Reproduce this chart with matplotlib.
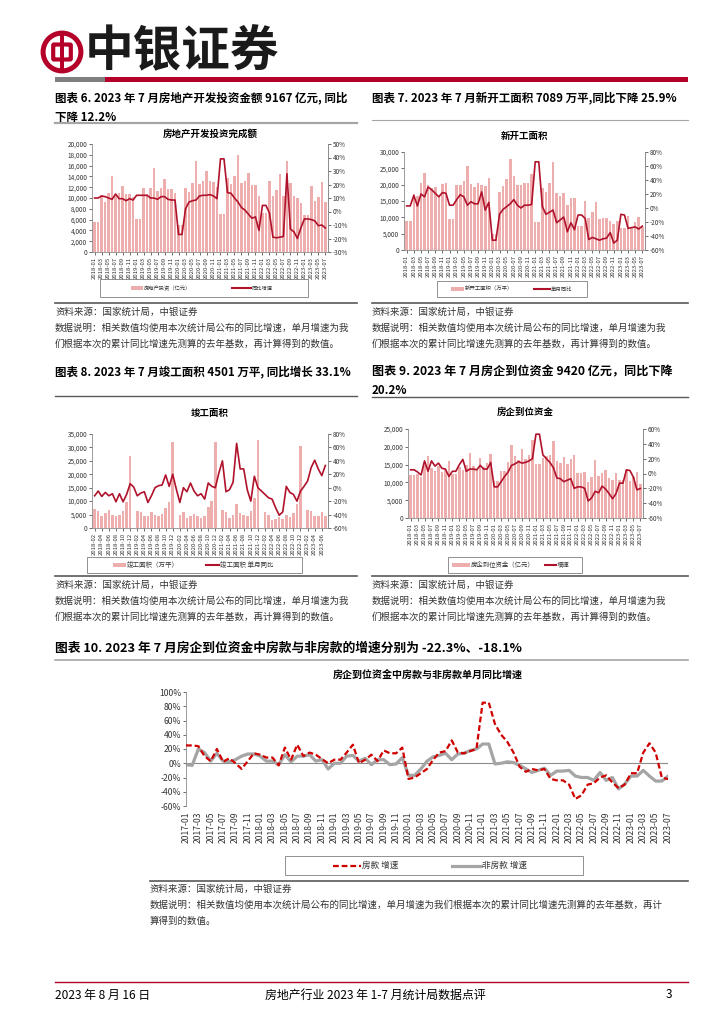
import numpy as np
import matplotlib
matplotlib.use("Agg")
import matplotlib.pyplot as plt
from matplotlib.lines import Line2D
from matplotlib.patches import Circle, FancyBboxPatch, Rectangle
from matplotlib.ticker import FuncFormatter, MultipleLocator

W, H = 724, 1024
plt.rcParams["font.family"] = ["Noto Sans CJK SC", "DejaVu Sans"]
plt.rcParams["axes.unicode_minus"] = False

PINK = "#EEAEAE"
CRIMSON = "#B0122B"
RED = "#B5002A"
DASH_RED = "#D00000"
GRAY_LINE = "#A5A5A5"
GRAY_TXT = "#333333"
SPINE = "#8C8C8C"
nan = float("nan")

# ---- categories ------------------------------------------------------------
months_18 = [f"{y}-{m:02d}" for y in range(2018, 2024) for m in range(1, 13)][:67]
months_18b = months_18[1:]          # 2018-02 .. 2023-07
months_17 = [f"{y}-{m:02d}" for y in range(2017, 2024) for m in range(1, 13)][:79]

# ---- 图表6 房地产开发投资 (亿元) / 同比 (%) ----------------------------------
invest = [5500, 5500, 10500, 9300, 10900, 14100, 10400, 10900, 12200, 10800, 10800, 10200,
          6100, 6100, 11900, 10700, 11900, 15500, 11300, 11800, 13500, 11700, 11700, 11000,
          5000, 5000, 11900, 11200, 12800, 16900, 12600, 13100, 15000, 13100, 13000, 12000,
          7000, 7000, 13700, 12600, 14100, 17900, 12700, 13200, 14600, 12400, 12400, 10300,
          7300, 7300, 13100, 10300, 11500, 14400, 10400, 16800, 12800, 10400, 10000, 9100,
          6900, 6900, 12300, 9500, 10200, 12900, 9167]
invest_yoy = [10, 10, 11.5, 11, 10, 9, 13, 9.5, 9.5, 8, 9.5, 8.5,
              12, 12, 12, 12, 10, 10, 9, 11, 11, 9, 8.5, 8.5,
              -17, -17, 2, 7, 8, 8.5, 11.5, 12, 12, 12.5, 11.5, 9.5,
              39, 39, 14, 13.5, 10, 7, 3, 1, -2, -5, -4, -14,
              4.5, 4.5, -1, -19, -19.5, -19, -18.5, 28, -13, -15, -20, -12,
              -5.5, -5.5, -6, -7, -10.5, -10, -12.2]

# ---- 图表7 新开工面积 (万平) / 单月同比 (%) ---------------------------------
starts = [8850, 8850, 17000, 16400, 20400, 23500, 19800, 19000, 19200, 16400, 20100, 20400,
          9350, 9350, 19800, 19800, 21000, 25700, 20100, 19300, 20500, 19800, 19500, 22000,
          5000, 5000, 17800, 19500, 21600, 28000, 22600, 19800, 20000, 20600, 20400, 23400,
          8500, 8500, 19100, 17700, 20400, 26800, 17600, 16500, 17300, 13700, 16000, 16000,
          7300, 7300, 14900, 9800, 11600, 14600, 9600, 9700, 9800, 8800, 7900, 8800,
          6800, 6800, 10500, 7000, 8500, 10100, 7089]
starts_yoy = [3, 3, 18, 3, 20, 16, 30, 26, 21, 16, 22, 21,
              4, 4, 12, 19, 16, 4, 9, 6, 6, 23, -3, 8,
              -46, -46, -9, -2, 2, 6, 12, 4, 0, 4, 4, 5,
              66, 66, 2, -9, -6, -3, -21, -17, -13, -34, -21, -31,
              -10, -10, -15, -45, -42, -44, -46, -44, -43, -35, -50, -46,
              -9, -10, -29, -28, -27, -30, -25.9]

# ---- 图表8 竣工面积 (万平) / 单月同比 (%), 2018-02 起 -----------------------
compl = [7000, 6500, 4500, 5400, 6600, 5000, 4300, 5000, 6200, 9500, 26700,
         nan, 6300, 6100, 4300, 4300, 5800, 5000, 4400, 5100, 7500, 9600, 32000,
         nan, 4800, 6000, 3800, 4300, 5300, 4300, 3900, 4300, 7800, 10000, 32000,
         nan, 6800, 5800, 3700, 4800, 8900, 5400, 5000, 4300, 6300, 11300, 32600,
         nan, 6100, 4800, 3100, 3400, 4200, 3500, 5000, 4200, 5700, 9100, 30400,
         nan, 6600, 6200, 4300, 4300, 6100, 4501]
compl_yoy = [-12, -5, -13, -7, -12, -9, -21, -9, -21, -10, 6,
             1, -12, -8, -6, -22, -12, 0, 3, 4, 19, 2, 20,
             -2, -22, 0, -6, 7, -5, -12, -9, -17, 7, 2, 0,
             22, 40, -6, -3, 8, 66, 28, 28, -3, -20, 17, 0,
             -5, -10, -15, -17, -30, -41, -36, 2, -7, -10, -20, -5,
             2, 10, 30, 41, 28, 18, 33.1]

# ---- 图表9 房企到位资金 (亿元) / 增速 (%) -----------------------------------
funds = [12000, 12000, 12300, 11400, 15000, 17300, 14000, 13300, 14500, 13000, 13500, 16000,
         12300, 12300, 14300, 13500, 15000, 18300, 14700, 13500, 16800, 14300, 15400, 18000,
         10500, 10500, 13300, 13300, 15700, 20600, 17300, 16200, 19300, 16600, 17800, 22000,
         15200, 15200, 16800, 17300, 17800, 21500, 16000, 15400, 17000, 15100, 16700, 17700,
         12600, 12600, 12900, 10200, 11600, 16300, 11800, 12700, 13400, 11200, 10800, 12600,
         10700, 10700, 13600, 10400, 11400, 12800, 9420]
funds_yoy = [5, 5, 2, -2, 17, 3, 17, 10, 14, 7, 6, -4,
             3, 3, 12, 19, 3, 6, 6, 5, 11, 6, 6, 15,
             -18, -18, -11, -4, 2, 11, 13, 16, 14, 15, 17, 20,
             53, 53, 25, 20, 15, 8, -6, -7, -11, -9, -7, -20,
             -18, -18, -20, -37, -33, -24, -26, -17, -21, -27, -34, -27,
             -13, -13, 5, 4, -5, -22, -20.2]

# ---- 图表10 房款 / 非房款 单月同比 (%), 2017-01 起 ---------------------------
house_pay = [25, 25, 24, 10, 3, 20, 2, 7, 0, -8, 3, 14,
             12, 8, 8, -3, 22, 5, 26, 10, 15, 12, 6, 0,
             5, 5, 15, 26, 0, 5, 12, 3, 18, 14, 14, 22,
             -22, -20, -14, -8, 5, 15, 17, 32, 15, 14, 17, 20,
             85, 85, 55, 40, 30, 15, -5, -12, -8, -10, -8, -22,
             -24, -24, -30, -50, -45, -30, -28, -20, -17, -27, -35, -30,
             -14, -14, 15, 28, 15, -20, -22.3]
non_house = [-2, -3, 20, 15, 3, 14, 3, 2, 5, 10, 13, 13,
             10, 3, 3, -2, 12, 2, 10, 10, 12, 3, 5, -8,
             0, 0, 10, 11, 3, 7, -2, 5, 5, -2, -1, 8,
             -17, -17, -8, 3, 9, 11, 14, 5, 13, 14, 18, 20,
             27, 27, -1, 0, 2, 1, -3, -8, -13, -10, -7, -17,
             -11, -11, -10, -18, -20, -20, -24, -13, -24, -20, -36, -29,
             -18, -18, -10, -18, -25, -25, -18.1]

SRC = "资料来源：国家统计局，中银证券"
NOTE1 = "数据说明：相关数值均使用本次统计局公布的同比增速，单月增速为我"
NOTE2 = "们根据本次的累计同比增速先测算的去年基数，再计算得到的数值。"

fig = plt.figure(figsize=(W / 100, H / 100), dpi=100)


def fx(x):
    return x / W


def fy(y):
    return 1 - y / H


def add_ax(x0, y0, x1, y1):
    return fig.add_axes([x0 / W, 1 - y1 / H, (x1 - x0) / W, (y1 - y0) / H])


def hline(x0, x1, y, color, lw, **kw):
    fig.add_artist(Line2D([fx(x0), fx(x1)], [fy(y), fy(y)], color=color, lw=lw,
                          transform=fig.transFigure, **kw))


def txt(x, y, s, size, **kw):
    fig.text(fx(x), fy(y), s, fontsize=size, va="center", **kw)


def legend_box(box, items, size):
    # framed legend placed in page pixels: items = (kind, key_x0, key_x1, label)
    x0, y0, x1, y1 = box
    fig.add_artist(Rectangle((fx(x0), fy(y1)), (x1 - x0) / W, (y1 - y0) / H, fill=False,
                             ec="#7F7F7F", lw=0.6, transform=fig.transFigure))
    cy = (y0 + y1) / 2
    for kind, k0, k1, label in items:
        if kind == "bar":
            fig.add_artist(Rectangle((fx(k0), fy(cy + 2)), (k1 - k0) / W, 4 / H, color=PINK,
                                     lw=0, transform=fig.transFigure))
        elif kind == "line":
            hline(k0, k1, cy, CRIMSON, 1.5)
        elif kind == "dash":
            hline(k0, k1, cy, DASH_RED, 1.6, ls=(0, (2.6, 1.3)))
        else:
            hline(k0, k1, cy, GRAY_LINE, 2.3)
        txt(k1 + 1, cy, label, size, ha="left", color=GRAY_TXT)


comma = FuncFormatter(lambda v, p: f"{v:,.0f}")
pct = FuncFormatter(lambda v, p: f"{v:.0f}%")


def style_axis(ax, size):
    ax.spines["top"].set_visible(False)
    for s in ("left", "right", "bottom"):
        ax.spines[s].set_color(SPINE)
        ax.spines[s].set_linewidth(0.6)
    ax.tick_params(labelsize=size, colors=GRAY_TXT, length=2, width=0.5, pad=1.5)


def combo(box, bars, line, labels, ylim, ystep, y2lim, y2step, title, title_y):
    ax = add_ax(*box)
    x = np.arange(len(bars))
    ax.bar(x, bars, width=0.72, color=PINK, zorder=2)
    ax.set_xlim(-0.75, len(bars) - 0.25)
    ax.set_ylim(*ylim)
    ax.yaxis.set_major_locator(MultipleLocator(ystep))
    ax.yaxis.set_major_formatter(comma)
    ax.set_xticks(x[::2])
    ax.set_xticklabels(labels[::2], rotation=90)
    style_axis(ax, 4.6)
    ax.tick_params(axis="x", labelsize=4.3)
    ax2 = ax.twinx()
    ax2.plot(x, line, color=CRIMSON, lw=1.2, zorder=3)
    ax2.set_ylim(*y2lim)
    ax2.yaxis.set_major_locator(MultipleLocator(y2step))
    ax2.yaxis.set_major_formatter(pct)
    style_axis(ax2, 4.6)
    ax2.spines["left"].set_visible(False)
    ax2.spines["bottom"].set_visible(False)
    txt((box[0] + box[2]) / 2, title_y, title, 6.8, ha="center", weight="bold")
    return ax


# ---- header ------------------------------------------------------------------
logo = add_ax(40, 30, 84, 74)
logo.set_xlim(-1, 1)
logo.set_ylim(-1, 1)
logo.set_aspect("equal")
logo.axis("off")
logo.add_patch(Circle((0, 0), 0.86, fill=False, ec=RED, lw=3.6))
logo.add_patch(FancyBboxPatch((-0.36, -0.3), 0.72, 0.6, boxstyle="round,pad=0.04",
                              fill=False, ec=RED, lw=3.0))
logo.add_patch(Rectangle((-0.08, -0.9), 0.16, 1.8, color=RED, lw=0))
txt(85, 52, "中银证券", 35, ha="left", weight="bold", color="#1A1A1A")
fig.add_artist(Rectangle((fx(55), fy(82)), fx(105) - fx(55), 5 / H, color="#7F7F7F",
                         transform=fig.transFigure, lw=0))
fig.add_artist(Rectangle((fx(105), fy(82)), fx(688) - fx(105), 5 / H, color=RED,
                         transform=fig.transFigure, lw=0))

# ---- captions ----------------------------------------------------------------
CAP = 8.3
txt(55, 98, "图表 6. 2023 年 7 月房地产开发投资金额 9167 亿元, 同比", CAP, ha="left", weight="bold")
txt(55, 117, "下降 12.2%", CAP, ha="left", weight="bold")
hline(55, 357, 123, "#A6A6A6", 1.6)
txt(372, 98, "图表 7. 2023 年 7 月新开工面积 7089 万平,同比下降 25.9%", CAP, ha="left", weight="bold")
hline(372, 688, 120, "#A6A6A6", 0.8)

txt(55, 372, "图表 8. 2023 年 7 月竣工面积 4501 万平, 同比增长 33.1%", CAP, ha="left", weight="bold")
hline(55, 357, 396, "#595959", 1.0)
txt(372, 372, "图表 9. 2023 年 7 月房企到位资金 9420 亿元，同比下降", CAP + 0.4, ha="left", weight="bold")
txt(372, 391, "20.2%", CAP, ha="left", weight="bold")
hline(372, 688, 397, "#595959", 1.0)

# ---- charts 6-9 --------------------------------------------------------------
combo((92, 144, 328, 252), invest, invest_yoy, months_18, (0, 20000), 2000,
      (-30, 50), 10, "房地产开发投资完成额", 134)
legend_box((100, 279, 308, 297), [("bar", 131, 143, "房地产投资（亿元）"),
                                  ("line", 232, 251, "同比增速")], 3.8)

combo((404, 152, 645, 250), starts, starts_yoy, months_18, (0, 30000), 5000,
      (-60, 80), 20, "新开工面积", 136)
legend_box((437, 281, 587, 297), [("bar", 451, 464, "新开工面积（万平）"),
                                  ("line", 534, 550, "单月同比")], 3.9)

combo((92, 434, 328, 528), compl, compl_yoy, months_18b, (0, 35000), 5000,
      (-60, 80), 20, "竣工面积", 413)
legend_box((87, 557, 302, 573), [("bar", 113, 126, "竣工面积（万平）"),
                                 ("line", 206, 219, "竣工面积 单月同比")], 4.7)

combo((408, 429, 643, 518), funds, funds_yoy, months_18, (0, 25000), 5000,
      (-60, 60), 20, "房企到位资金", 412)
legend_box((448, 557, 582, 573), [("bar", 452, 470, "房企到位资金（亿元）"),
                                  ("line", 545, 556, "增速")], 4.6)

for xs, y0, xe in ((55, 303, 357), (372, 303, 688), (55, 576, 357), (372, 576, 688)):
    hline(xs, xe, y0, "#595959", 1.2)
    txt(xs, y0 + 9, SRC, 6.8, ha="left", color=GRAY_TXT)
    txt(xs, y0 + 25, NOTE1, 6.8, ha="left", color=GRAY_TXT)
    txt(xs, y0 + 41, NOTE2, 6.8, ha="left", color=GRAY_TXT)

# ---- chart 10 ----------------------------------------------------------------
txt(55, 648, "图表 10. 2023 年 7 月房企到位资金中房款与非房款的增速分别为 -22.3%、-18.1%", 9.2,
    ha="left", weight="bold")
hline(55, 688, 660, "#A6A6A6", 1.2)
txt(428, 675, "房企到位资金中房款与非房款单月同比增速", 7.2, ha="center", weight="bold")

ax = add_ax(186, 692, 668, 806)
x10 = np.arange(len(months_17))
ax.plot(x10, non_house, color=GRAY_LINE, lw=2.3, zorder=2)
ax.plot(x10, house_pay, color=DASH_RED, lw=1.6, ls=(0, (2.6, 1.3)), zorder=3)
ax.axhline(0, color=SPINE, lw=0.8, zorder=1)
ax.set_xlim(0, len(months_17) - 1)
ax.set_ylim(-60, 100)
ax.yaxis.set_major_locator(MultipleLocator(20))
ax.yaxis.set_major_formatter(pct)
ax.set_xticks(x10[::2])
ax.set_xticklabels(months_17[::2], rotation=90)
style_axis(ax, 6.2)
ax.spines["right"].set_visible(False)
ax.spines["bottom"].set_visible(False)
ax.tick_params(axis="x", length=0, pad=4)

legend_box((285, 856, 583, 875), [("dash", 333, 361, "房款 增速"),
                                  ("gray", 452, 481, "非房款 增速")], 6.2)

hline(150, 688, 881, "#595959", 1.2)
txt(150, 889, SRC, 6.8, ha="left", color=GRAY_TXT)
txt(150, 905, "数据说明：相关数值均使用本次统计局公布的同比增速，单月增速为我们根据本次的累计同比增速先测算的去年基数，再计",
    6.8, ha="left", color=GRAY_TXT)
txt(150, 921, "算得到的数值。", 6.8, ha="left", color=GRAY_TXT)

# ---- footer ------------------------------------------------------------------
hline(55, 688, 982, RED, 1.0)
txt(55, 995, "2023 年 8 月 16 日", 8.6, ha="left")
txt(375, 995, "房地产行业 2023 年 1-7 月统计局数据点评", 8.6, ha="center")
txt(672, 995, "3", 8.6, ha="right")

fig.savefig("out.png", dpi=100)
